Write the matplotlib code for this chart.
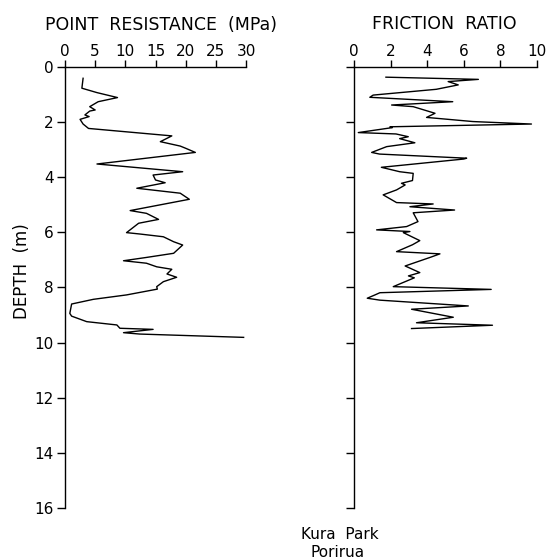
"""CPT log, Kura Park, Porirua"""

import matplotlib
matplotlib.use("Agg")
import matplotlib.pyplot as plt

# point resistance (MPa) vs depth (m)
qc_depth = [0.41, 0.77, 0.93, 1.11, 1.26, 1.44, 1.56, 1.60, 1.74, 1.80, 1.90, 2.07,
            2.23, 2.50, 2.71, 2.87, 2.95, 3.10, 3.52, 3.80, 3.92, 4.10, 4.20, 4.40,
            4.58, 4.80, 5.21, 5.31, 5.53, 5.67, 6.01, 6.06, 6.16, 6.34, 6.46, 6.76,
            6.91, 7.03, 7.12, 7.25, 7.34, 7.51, 7.63, 7.79, 7.97, 8.06, 8.27, 8.43,
            8.60, 8.94, 9.04, 9.24, 9.36, 9.48, 9.52, 9.64, 9.69, 9.81]
qc_value = [3.0, 2.8, 5.3, 8.7, 5.5, 4.1, 5.0, 4.1, 3.3, 4.0, 2.5, 3.0,
            3.9, 17.7, 15.8, 19.1, 20.0, 21.6, 5.3, 19.5, 14.6, 15.0, 16.6, 11.9,
            19.1, 20.6, 10.8, 13.5, 15.5, 12.2, 10.2, 12.4, 16.3, 18.0, 19.5, 18.0,
            13.5, 9.7, 13.5, 15.2, 17.7, 16.9, 18.5, 16.3, 15.2, 15.3, 10.2, 4.7,
            1.1, 0.8, 1.1, 3.6, 8.6, 9.1, 14.6, 9.7, 12.4, 29.6]

# friction ratio vs depth (m)
fr_depth = [0.37, 0.45, 0.53, 0.65, 0.81, 1.02, 1.10, 1.26, 1.38, 1.44, 1.68, 1.83,
            1.98, 2.07, 2.17, 2.20, 2.38, 2.43, 2.53, 2.60, 2.75, 2.89, 3.10, 3.16,
            3.31, 3.34, 3.64, 3.80, 3.86, 4.12, 4.22, 4.28, 4.46, 4.64, 4.92, 4.97,
            5.07, 5.19, 5.29, 5.61, 5.79, 5.91, 5.97, 6.01, 6.30, 6.45, 6.70, 6.78,
            6.90, 7.22, 7.46, 7.58, 7.65, 7.97, 8.07, 8.19, 8.27, 8.39, 8.46, 8.67,
            8.79, 9.08, 9.28, 9.37, 9.49]
fr_value = [1.75, 6.8, 5.15, 5.7, 4.5, 1.05, 0.87, 5.4, 2.06, 3.24, 4.43, 3.97,
            6.5, 9.7, 1.97, 2.1, 0.24, 2.3, 2.97, 2.5, 3.33, 1.79, 0.97, 1.4,
            6.16, 6.0, 1.5, 2.5, 3.24, 3.2, 2.6, 2.8, 2.33, 1.6, 2.33, 4.33,
            3.06, 5.5, 3.24, 3.5, 2.88, 1.24, 3.06, 2.7, 3.6, 3.2, 2.33, 4.7,
            4.2, 2.8, 3.6, 2.98, 3.3, 2.15, 7.5, 1.42, 1.15, 0.73, 1.42, 6.25,
            3.15, 5.43, 3.42, 7.57, 3.15]

depth_ticks = [0, 2, 4, 6, 8, 10, 12, 14, 16]
qc_ticks = [0, 5, 10, 15, 20, 25, 30]
fr_ticks = [0, 2, 4, 6, 8, 10]

plt.rcParams["font.family"] = "DejaVu Sans"

fig = plt.figure(figsize=(5.47, 5.6), dpi=100)
ax1 = fig.add_axes([0.1188, 0.0929, 0.331, 0.7875])
ax2 = fig.add_axes([0.647, 0.0929, 0.3346, 0.7875])


def style_axis(ax, xticks, xmax, show_ylabels):
    ax.set_xlim(0, xmax)
    ax.set_ylim(16, 0)
    ax.spines["right"].set_visible(False)
    ax.spines["bottom"].set_visible(False)
    for s in ("left", "top"):
        ax.spines[s].set_linewidth(1.0)
    ax.xaxis.tick_top()
    ax.set_xticks(xticks)
    ax.set_yticks(depth_ticks)
    ax.tick_params(axis="x", direction="out", length=5, width=1, pad=1, labelsize=11)
    ax.tick_params(axis="y", direction="out", length=6, width=1, pad=2, labelsize=11)
    if not show_ylabels:
        ax.set_yticklabels([])


ax1.plot(qc_value, qc_depth, color="black", lw=1.0)
style_axis(ax1, qc_ticks, 30, True)
ax2.plot(fr_value, fr_depth, color="black", lw=1.0)
style_axis(ax2, fr_ticks, 10, False)

fig.text(0.083, 0.955, "POINT  RESISTANCE  (MPa)", fontsize=12.5, ha="left", va="center")
fig.text(0.812, 0.957, "FRICTION  RATIO", fontsize=12.5, ha="center", va="center")
fig.text(0.04, 0.515, "DEPTH  (m)", fontsize=12, rotation=90, ha="center", va="center")
fig.text(0.622, 0.045, "Kura  Park", fontsize=11, ha="center", va="center")
fig.text(0.617, 0.013, "Porirua", fontsize=11, ha="center", va="center")

fig.savefig("out.png", dpi=100)
